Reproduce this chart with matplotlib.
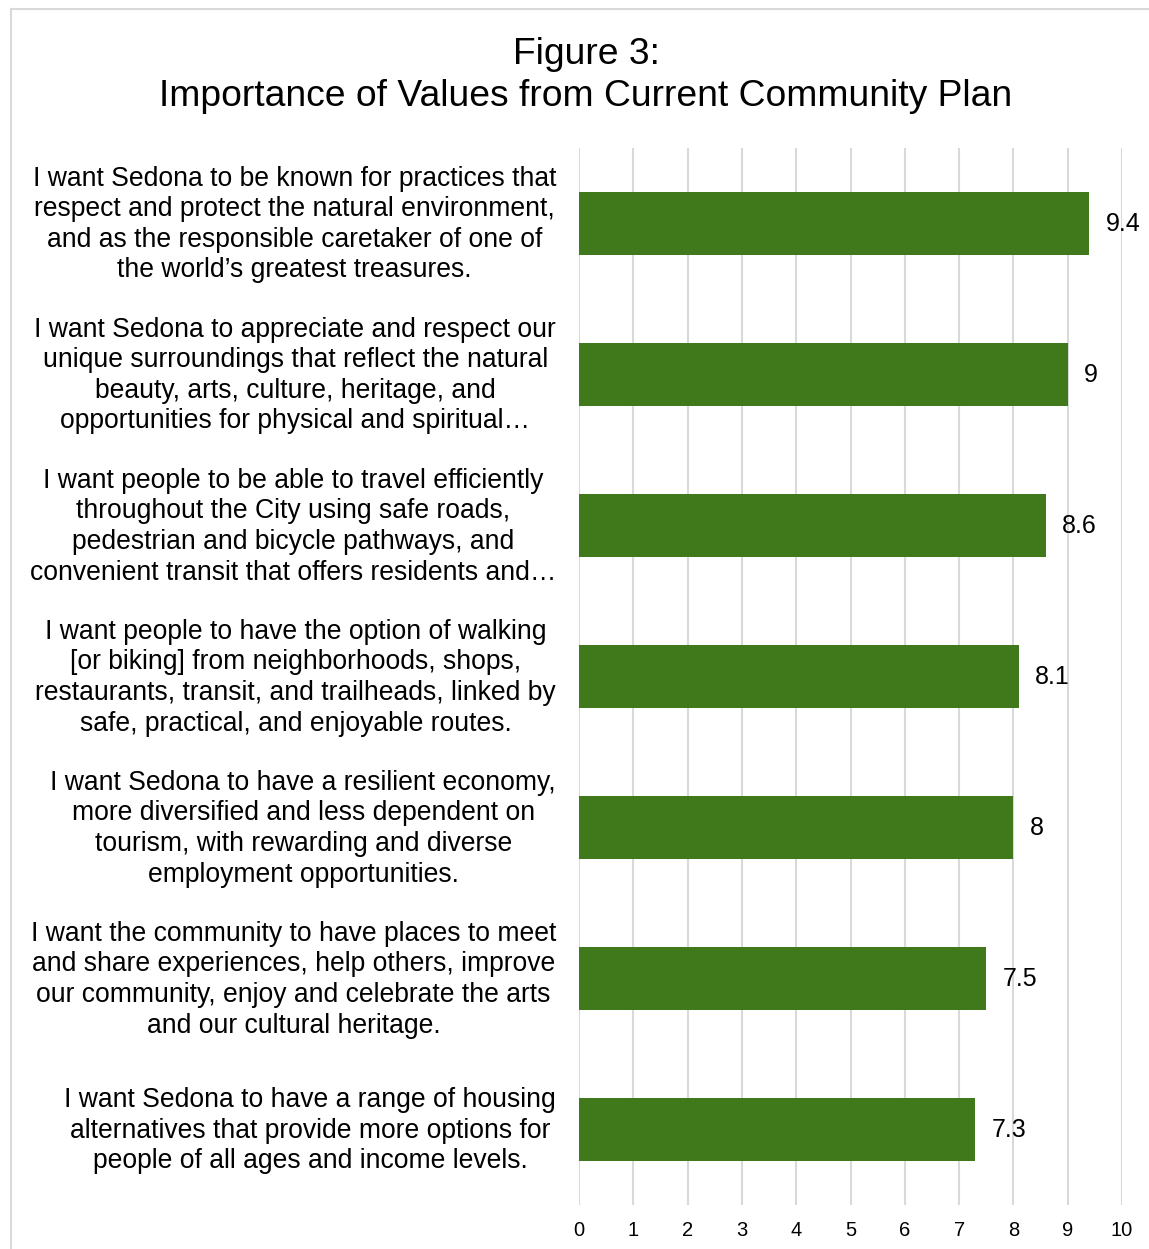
import matplotlib.pyplot as plt
import matplotlib.transforms as mtransforms
from matplotlib.lines import Line2D

plt.rcParams['font.family'] = ['Liberation Sans', 'DejaVu Sans']

# values, top to bottom
labels = [
    "I want Sedona to be known for practices that\nrespect and protect the natural environment,\nand as the responsible caretaker of one of\nthe world\u2019s greatest treasures.",
    "I want Sedona to appreciate and respect our\nunique surroundings that reflect the natural\nbeauty, arts, culture, heritage, and\nopportunities for physical and spiritual\u2026",
    "I want people to be able to travel efficiently\nthroughout the City using safe roads,\npedestrian and bicycle pathways, and\nconvenient transit that offers residents and\u2026",
    "I want people to have the option of walking\n[or biking] from neighborhoods, shops,\nrestaurants, transit, and trailheads, linked by\nsafe, practical, and enjoyable routes.",
    "I want Sedona to have a resilient economy,\nmore diversified and less dependent on\ntourism, with rewarding and diverse\nemployment opportunities.",
    "I want the community to have places to meet\nand share experiences, help others, improve\nour community, enjoy and celebrate the arts\nand our cultural heritage.",
    "I want Sedona to have a range of housing\nalternatives that provide more options for\npeople of all ages and income levels.",
]
scores = [9.4, 9, 8.6, 8.1, 8, 7.5, 7.3]
xticks = list(range(0, 11))

fig = plt.figure(figsize=(11.49, 12.49), dpi=100)
ax = fig.add_axes([0.504, 0.035, 0.4725, 0.8465])

ypos = list(range(len(scores)))
ax.barh(ypos, scores, height=0.42, color='#40781C', zorder=3)
ax.set_ylim(len(scores) - 0.5, -0.5)
ax.set_xlim(0, 10)

for y, v in zip(ypos, scores):
    ax.text(v + 0.3, y, f"{v:g}", va='center', ha='left', fontsize=18, color='black', zorder=4)

# category labels, right edge a bit left of the axis
lab_tr = mtransforms.blended_transform_factory(ax.transAxes, ax.transData) + \
    mtransforms.ScaledTranslation(-0.23, -0.01, fig.dpi_scale_trans)
for y, lab in zip(ypos, labels):
    ax.text(0, y, lab, transform=lab_tr, ha='right', va='center', multialignment='center',
            fontsize=19.1, linespacing=1.23)

ax.set_yticks([])
ax.set_xticks(xticks)
ax.set_xticklabels([str(t) for t in xticks], fontsize=14.5)
ax.tick_params(axis='x', length=0, pad=11)
ax.grid(axis='x', color='#D9D9D9', linewidth=1.5, zorder=0)
for s in ax.spines.values():
    s.set_visible(False)

fig.text(0.51, 0.9395, "Figure 3:\nImportance of Values from Current Community Plan",
         ha='center', va='center', fontsize=26.8, linespacing=1.25)

# light frame around the chart
fig.add_artist(Line2D([11 / 1149, 11 / 1149], [0, 1 - 9 / 1249], color='#D9D9D9', lw=1.5))
fig.add_artist(Line2D([11 / 1149, 1], [1 - 9 / 1249, 1 - 9 / 1249], color='#D9D9D9', lw=1.5))

fig.savefig('out.png', dpi=100)
